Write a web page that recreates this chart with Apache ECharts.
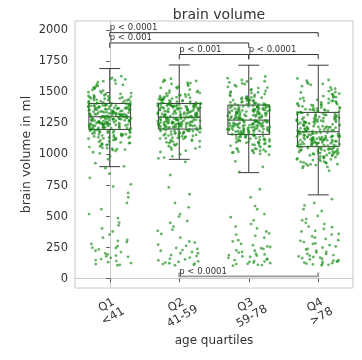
<!DOCTYPE html>
<html><head><meta charset="utf-8">
<script src="https://cdn.jsdelivr.net/npm/echarts@6/dist/echarts.min.js"></script>
<style>html,body{margin:0;padding:0;background:#fff}#c{width:362px;height:360px}</style>
</head><body><div id="c"></div>
<script>
const categories = ['Q1\n<41', 'Q2\n41-59', 'Q3\n59-78', 'Q4\n>78'];
const yTicks = [0, 250, 500, 750, 1000, 1250, 1500, 1750, 2000];

const whiskerLow  = [902, 961, 854, 675];
const quart1      = [1202, 1205, 1162, 1063];
const medians     = [1304, 1300, 1277, 1183];
const quart3      = [1411, 1411, 1398, 1339];
const whiskerHigh = [1692, 1721, 1719, 1719];

const q1Points = [
1312,1245,1387,1158,1452,1290,1205,1366,1530,1072,1338,1221,1401,1183,1275,1598,1329,1119,1432,1261,
1350,1040,1214,1385,1296,1477,1137,1318,1236,1560,1405,1192,1281,1343,1091,1466,1253,1373,1227,1616,
1301,1166,1420,1268,1357,1018,1396,1241,1509,1145,1324,1287,1443,1209,1379,1105,1340,1257,1488,1176,
1306,1392,1232,1548,1127,1361,1272,1415,1060,1334,1218,1459,1298,1188,1370,1243,1582,1152,1316,1399,
1264,1083,1427,1347,1229,1495,1171,1283,1365,1036,1448,1255,1322,1198,1408,1113,1293,1382,1520,1239,
1352,1141,1278,1436,1211,1305,1054,1390,1266,1471,1162,1331,1248,1630,1097,1359,1225,1413,1285,1187,
1376,1130,1302,1463,1250,1345,1076,1403,1270,1540,1196,1327,1234,1440,1123,1368,1260,1485,1009,1395,
1288,1215,1354,1178,1424,1308,1247,1381,1066,1455,1320,1203,1394,1149,1279,1571,1336,1222,1410,1258,
1372,1101,1294,1502,1238,1363,1186,1418,1275,1047,1341,1230,1468,1163,1310,1389,1252,1605,1134,1325,
1294,1226,1371,1169,1437,1318,1208,1349,1515,1088,1330,1254,1397,1175,1283,1590,1312,1131,1421,1247,
1362,1051,1219,1378,1301,1461,1143,1322,1239,1552,1399,1198,1289,1337,1079,1449,1260,1364,1214,1607,
1298,1159,1428,1272,1346,1028,1384,1235,1497,1154,1318,1280,1438,1206,1371,1094,1333,1262,1476,1181,
1309,1386,1242,1535,1116,1356,1269,1409,1043,1325,1213,1452,1291,1191,1367,1244,1564,1138,1304,1393,
985,330,150,742,203,905,118,452,262,845,176,560,236,690,133,380,295,962,108,520,
214,812,158,405,248,610,186,930,126,488,280,760,142,355,195,655,112,430,225,890,168,312,250,305,180
];
const q2Points = [
1298,1231,1404,1167,1445,1279,1212,1372,1522,1085,1344,1226,1398,1190,1268,1585,1321,1126,1430,1256,
1352,1002,1218,1388,1289,1470,1144,1312,1240,1553,1409,1197,1283,1337,1098,1462,1250,1377,1223,1600,
1305,1172,1418,1263,1359,1031,1393,1244,1503,1152,1327,1291,1440,1206,1382,1110,1346,1259,1484,1181,
1309,1395,1235,1541,1132,1364,1274,1412,1067,1331,1220,1456,1300,1193,1374,1247,1575,1158,1318,1401,
1266,968,1425,1349,1232,1491,1176,1285,1367,1049,1447,1257,1324,1201,1410,1118,1295,1385,1515,1242,
1354,1146,1280,1434,1214,1307,1062,1391,1268,1473,1165,1333,1251,1610,1102,1361,1228,1415,1287,1189,
1378,1135,1303,1466,1253,1347,1080,1406,1272,1536,1199,1329,1237,1442,1128,1370,1262,1481,975,1397,
1290,1217,1356,1180,1426,1310,1249,1383,1056,1458,1322,1204,1396,1155,1281,1563,1338,1224,1413,1260,
1374,1107,1296,1498,1241,1365,1188,1420,1277,1020,1343,1233,1476,1169,1312,1390,1254,1592,1139,1327,
1288,1222,1396,1178,1439,1273,1215,1365,1512,1092,1339,1229,1391,1194,1262,1578,1316,1131,1425,1252,
1348,985,1221,1381,1285,1465,1149,1309,1243,1546,1402,1199,1278,1334,1104,1455,1246,1372,1226,1595,
1301,1175,1412,1259,1355,1040,1388,1238,1496,1158,1323,1289,1435,1209,1378,1115,1341,1254,1479,1185,
1306,1389,1239,1533,1137,1360,1270,1407,1074,1327,1223,1450,1297,1196,1369,1245,1568,1162,1314,1398,
835,140,465,230,610,118,360,182,735,265,125,420,205,520,155,300,108,575,240,395,
170,680,135,330,215,450,112,275,190,940,148,248,122,385,205,160,290,130,500,225
];
const q3Points = [
1285,1208,1390,1121,1440,1262,1170,1355,1525,1040,1320,1190,1395,1148,1250,1600,1305,1085,1425,1236,
1338,1005,1181,1370,1270,1472,1102,1296,1210,1558,1402,1157,1258,1328,1060,1460,1226,1362,1195,1628,
1289,1133,1415,1241,1345,1022,1384,1215,1506,1110,1309,1264,1438,1174,1366,1072,1330,1232,1487,1140,
1292,1381,1200,1545,1094,1350,1246,1408,1033,1316,1185,1452,1275,1152,1358,1219,1580,1117,1300,1392,
1238,1050,1420,1334,1196,1495,1136,1257,1353,1012,1445,1228,1312,1164,1404,1080,1268,1376,1518,1205,
1341,1106,1252,1432,1177,1282,1025,1379,1243,1466,1127,1318,1220,1615,1066,1347,1192,1410,1260,1150,
1368,1096,1279,1457,1222,1336,1045,1397,1247,1535,1161,1314,1203,1436,1089,1359,1234,1480,998,1386,
1266,1183,1343,1143,1418,1294,1213,1372,1030,1450,1306,1167,1388,1115,1254,1566,1326,1187,1400,1230,
1361,1070,1271,1500,1206,1349,1154,1412,1244,1016,1332,1199,1463,1128,1287,1380,1217,1590,1099,1311,
1279,1205,1384,1126,1433,1259,1174,1350,1512,1048,1316,1193,1390,1152,1246,1588,1301,1090,1419,1233,
1333,1015,1185,1366,1266,1465,1108,1292,1212,1548,1396,1160,1255,1324,1066,1455,1228,1357,1198,1611,
1283,1138,1409,1237,1341,1029,1379,1218,1499,1114,1305,1261,1432,1178,1362,1077,1327,1229,1481,1145,
1288,1376,1203,1539,1098,1346,1243,1403,1039,1312,1188,1447,1272,1156,1354,1222,1572,1121,1296,1387,
945,655,120,380,215,520,160,310,860,245,135,440,190,585,112,355,270,150,470,200,
125,330,180,720,255,142,405,228,105,300,168,495,210,130,365,240,155,420,185,118,280,900,195,345,138,260,175,560,110,225
];
const q4Points = [
1190,1105,1320,1012,1402,1160,1068,1276,1490,935,1233,1084,1345,1040,1145,1580,1210,978,1380,1128,
1262,892,1075,1305,1172,1440,1001,1198,1112,1530,1355,1050,1152,1248,955,1425,1120,1290,1090,1612,
1195,1030,1370,1138,1266,915,1318,1108,1468,1008,1216,1168,1395,1070,1300,968,1240,1125,1455,1036,
1200,1330,1096,1510,990,1270,1142,1362,930,1222,1078,1412,1180,1048,1285,1114,1560,1015,1205,1340,
1134,948,1375,1255,1092,1462,1032,1150,1280,905,1405,1122,1220,1060,1350,975,1175,1298,1485,1100,
1265,1002,1148,1390,1072,1186,920,1312,1136,1430,1024,1225,1115,1595,962,1258,1088,1365,1155,1046,
1292,994,1176,1420,1118,1250,940,1342,1140,1500,1058,1228,1098,1398,985,1276,1130,1448,870,1318,
1164,1080,1262,1040,1378,1206,1110,1302,925,1415,1215,1064,1335,1012,1148,1540,1236,1082,1352,1126,
1282,960,1170,1470,1102,1272,1052,1360,1140,912,1246,1094,1432,1026,1188,1325,1118,1570,996,1220,
1185,1098,1314,1020,1395,1155,1072,1270,1482,942,1228,1088,1338,1046,1140,1568,1205,984,1372,1132,
1256,900,1079,1298,1168,1433,1006,1193,1116,1522,1348,1054,1157,1243,960,1418,1124,1284,1094,1600,
1190,1035,1362,1142,1260,922,1311,1112,1460,1013,1211,1164,1388,1074,1294,972,1235,1129,1447,1041,
1196,1323,1100,1502,996,1264,1146,1356,936,1218,1082,1405,1176,1052,1279,1118,1550,1019,1201,1333,
640,120,355,210,590,150,420,260,108,505,185,310,135,470,235,160,380,285,115,545,
200,330,145,440,250,170,400,125,295,610,190,360,140,225,480,112,270,175,340,130,415,215,155,305,560,240,165,385,122,280,198,450,138,320,180
];
const groupPoints = [q1Points, q2Points, q3Points, q4Points];

const bracketFrom    = [0, 0, 1, 2, 1];
const bracketTo      = [3, 2, 2, 3, 3];
const bracketLevel   = [1981, 1898, 1805, 1805, 18];
const bracketTickEnd = [1948, 1858, 1767, 1767, 50];
const bracketLabels  = ['p < 0.0001', 'p < 0.001', 'p < 0.001', 'p < 0.0001', 'p < 0.0001'];

const FONT = 'DejaVu Sans';

const boxData = categories.map((c, i) => [i, whiskerLow[i], quart1[i], medians[i], quart3[i], whiskerHigh[i]]);
// deterministic horizontal jitter (layout only; values come from the arrays above)
function jit(i, g) {
  let h = (Math.imul(i + 1, 2654435761 | 0) ^ Math.imul(g + 7, 40503)) >>> 0;
  h ^= h >>> 15; h = Math.imul(h, 0x2c1b3c6d) >>> 0;
  h ^= h >>> 12; h = Math.imul(h, 0x297a2d39) >>> 0;
  h ^= h >>> 15;
  return (h >>> 0) / 4294967296;
}
const scatterData = [];
groupPoints.forEach((pts, g) => {
  pts.forEach((v, i) => {
    scatterData.push([g + (jit(i, g) - 0.5) * 0.62, v]);
  });
});
const bracketData = bracketFrom.map((f, i) => [f, bracketTo[i], bracketLevel[i], bracketTickEnd[i], i]);

function renderBox(params, api) {
  const i = api.value(0);
  const pLo = api.coord([i, api.value(1)]);
  const pQ1 = api.coord([i, api.value(2)]);
  const pMed = api.coord([i, api.value(3)]);
  const pQ3 = api.coord([i, api.value(4)]);
  const pHi = api.coord([i, api.value(5)]);
  const hw = api.size([0.3, 0])[0];
  const cw = api.size([0.15, 0])[0];
  const x = pMed[0];
  const st = { stroke: '#3a3a3a', lineWidth: 1, fill: null };
  return {
    type: 'group',
    children: [
      { type: 'rect', shape: { x: x - hw, y: pQ3[1], width: 2 * hw, height: pQ1[1] - pQ3[1] }, style: { stroke: '#3a3a3a', lineWidth: 1, fill: 'rgba(0,0,0,0)' } },
      { type: 'line', shape: { x1: x - hw, y1: pMed[1], x2: x + hw, y2: pMed[1] }, style: st },
      { type: 'line', shape: { x1: x, y1: pQ3[1], x2: x, y2: pHi[1] }, style: st },
      { type: 'line', shape: { x1: x, y1: pQ1[1], x2: x, y2: pLo[1] }, style: st },
      { type: 'line', shape: { x1: x - cw, y1: pHi[1], x2: x + cw, y2: pHi[1] }, style: st },
      { type: 'line', shape: { x1: x - cw, y1: pLo[1], x2: x + cw, y2: pLo[1] }, style: st }
    ]
  };
}

function renderBracket(params, api) {
  const a = api.value(0), b = api.value(1), lv = api.value(2), te = api.value(3), idx = api.value(4);
  const pa = api.coord([a, lv]);
  const pb = api.coord([b, lv]);
  const ta = api.coord([a, te]);
  const low = te > lv;
  return {
    type: 'group',
    children: [
      { type: 'polyline', shape: { points: [[pa[0], ta[1]], pa, pb, [pb[0], ta[1]]] },
        style: { stroke: low ? '#9a9a9a' : '#333', lineWidth: low ? 1.8 : 1, fill: null } },
      { type: 'text', style: { text: bracketLabels[idx], x: pa[0], y: pa[1] - 0.5, align: 'left', verticalAlign: 'bottom',
        fontSize: 8.5, fontFamily: FONT, fill: '#333' }, z2: 10 }
    ]
  };
}

const chart = echarts.init(document.getElementById('c'), null, { renderer: 'canvas' });
chart.setOption({
  animation: false,
  backgroundColor: '#fff',
  title: {
    text: 'brain volume', left: 214, top: 3, textAlign: 'center',
    textStyle: { fontFamily: FONT, fontSize: 14, fontWeight: 'normal', color: '#333' }
  },
  grid: { left: 75, right: 9, top: 21, bottom: 72, show: true, borderColor: '#c8c8c8', borderWidth: 1 },
  xAxis: [
    {
      type: 'category', data: categories, boundaryGap: true,
      axisLine: { show: true, lineStyle: { color: '#c8c8c8' } },
      axisTick: { show: true, alignWithLabel: true, length: 3.5, lineStyle: { color: '#555' } },
      axisLabel: { rotate: 30, align: 'center', margin: 23, color: '#333', fontFamily: FONT, fontSize: 11.5, lineHeight: 13 },
      name: 'age quartiles', nameLocation: 'middle', nameGap: 47, nameMoveOverlap: false,
      nameTextStyle: { fontFamily: FONT, fontSize: 12, color: '#333' }
    },
    { type: 'value', min: -0.5, max: 3.5, show: false }
  ],
  yAxis: {
    type: 'value', min: -75, max: 2075,
    axisLine: { show: true, lineStyle: { color: '#c8c8c8' } },
    axisTick: { show: true, length: 3.5, lineStyle: { color: '#555' }, customValues: yTicks },
    axisLabel: { customValues: yTicks, formatter: v => String(v), color: '#333', fontFamily: FONT, fontSize: 11.5, margin: 7 },
    splitLine: { show: false },
    name: 'brain volume in ml', nameLocation: 'middle', nameGap: 42, nameMoveOverlap: false,
    nameTextStyle: { fontFamily: FONT, fontSize: 12.5, color: '#333' }
  },
  series: [
    { type: 'custom', xAxisIndex: 1, renderItem: renderBox, data: boxData, z: 2 },
    { type: 'scatter', xAxisIndex: 1, data: scatterData, symbolSize: 2.8,
      itemStyle: { color: '#138a13', opacity: 0.65 }, z: 3, silent: true },
    { type: 'custom', xAxisIndex: 1, renderItem: renderBracket, data: bracketData, z: 4 }
  ]
});
</script></body></html>
